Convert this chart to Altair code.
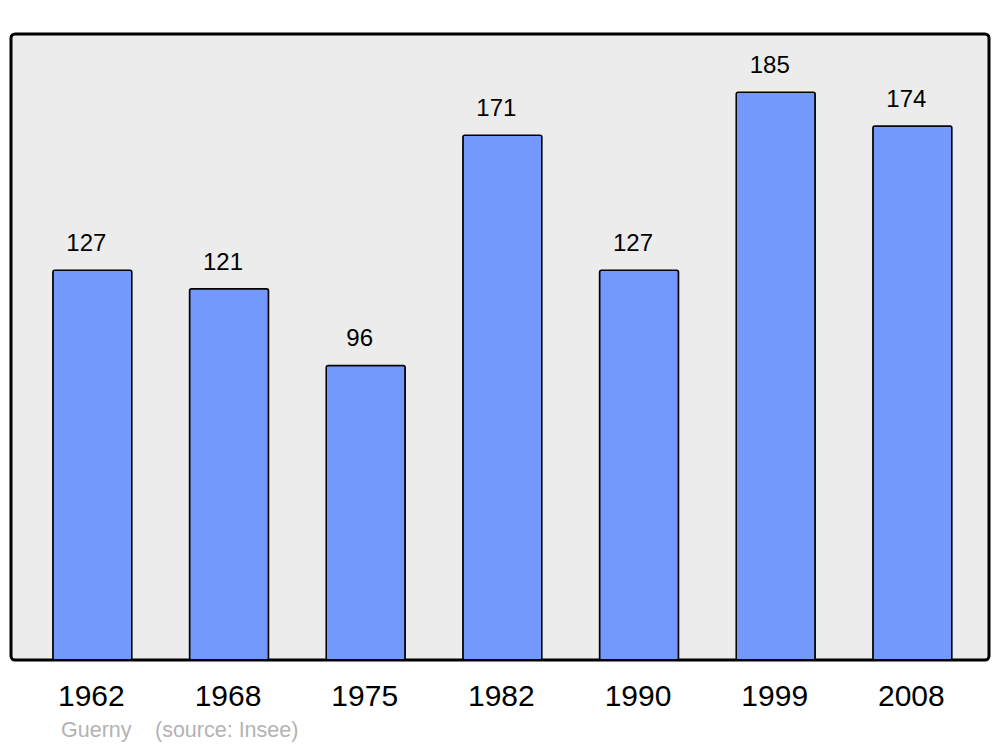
import altair as alt
import pandas as pd

years = ["1962", "1968", "1975", "1982", "1990", "1999", "2008"]
population = [127, 121, 96, 171, 127, 185, 174]
credit_author = "Guerny"
credit_source = "(source: Insee)"

df = pd.DataFrame({"year": years, "pop": population})

FONT = "Liberation Sans"

x = alt.X("year:O", sort=years,
          scale=alt.Scale(paddingInner=0.422, paddingOuter=0.289, align=0.53),
          axis=alt.Axis(title=None, labelAngle=0, labelFontSize=30, labelFont=FONT,
                        labelColor="black", domain=False, ticks=False,
                        labelBaseline="alphabetic", labelPadding=45, labelOffset=-1))
y = alt.Y("pop:Q", scale=alt.Scale(domain=[0, 204], nice=False), axis=None)

base = alt.Chart(df)

bars = base.mark_bar(color="#7399ff", stroke="black", strokeWidth=1.5,
                     cornerRadius=2).encode(x=x, y=y)

labels = base.mark_text(fontSize=24, font=FONT, color="black", baseline="alphabetic",
                        dy=-19, dx=-6).encode(x=x, y=y, text="pop:Q")

c1 = alt.Chart(pd.DataFrame({"t": [credit_author]})).mark_text(
    fontSize=21.5, font=FONT, color="#b3b3b3", align="left", baseline="alphabetic"
).encode(text="t:N", x=alt.value(50), y=alt.value(703))

c2 = alt.Chart(pd.DataFrame({"t": [credit_source]})).mark_text(
    fontSize=21.5, font=FONT, color="#b3b3b3", align="left", baseline="alphabetic"
).encode(text="t:N", x=alt.value(144), y=alt.value(703))

chart = alt.layer(bars, labels, c1, c2).properties(
    width=978, height=626,
    autosize=alt.AutoSizeParams(type="none"),
    padding={"left": 3, "top": 26, "right": 3, "bottom": 95},
    background="white",
).configure_view(
    fill="#ececec", stroke="black", strokeWidth=3, cornerRadius=4
)

chart.save("out.html", embed_options={"renderer": "svg", "actions": False})
